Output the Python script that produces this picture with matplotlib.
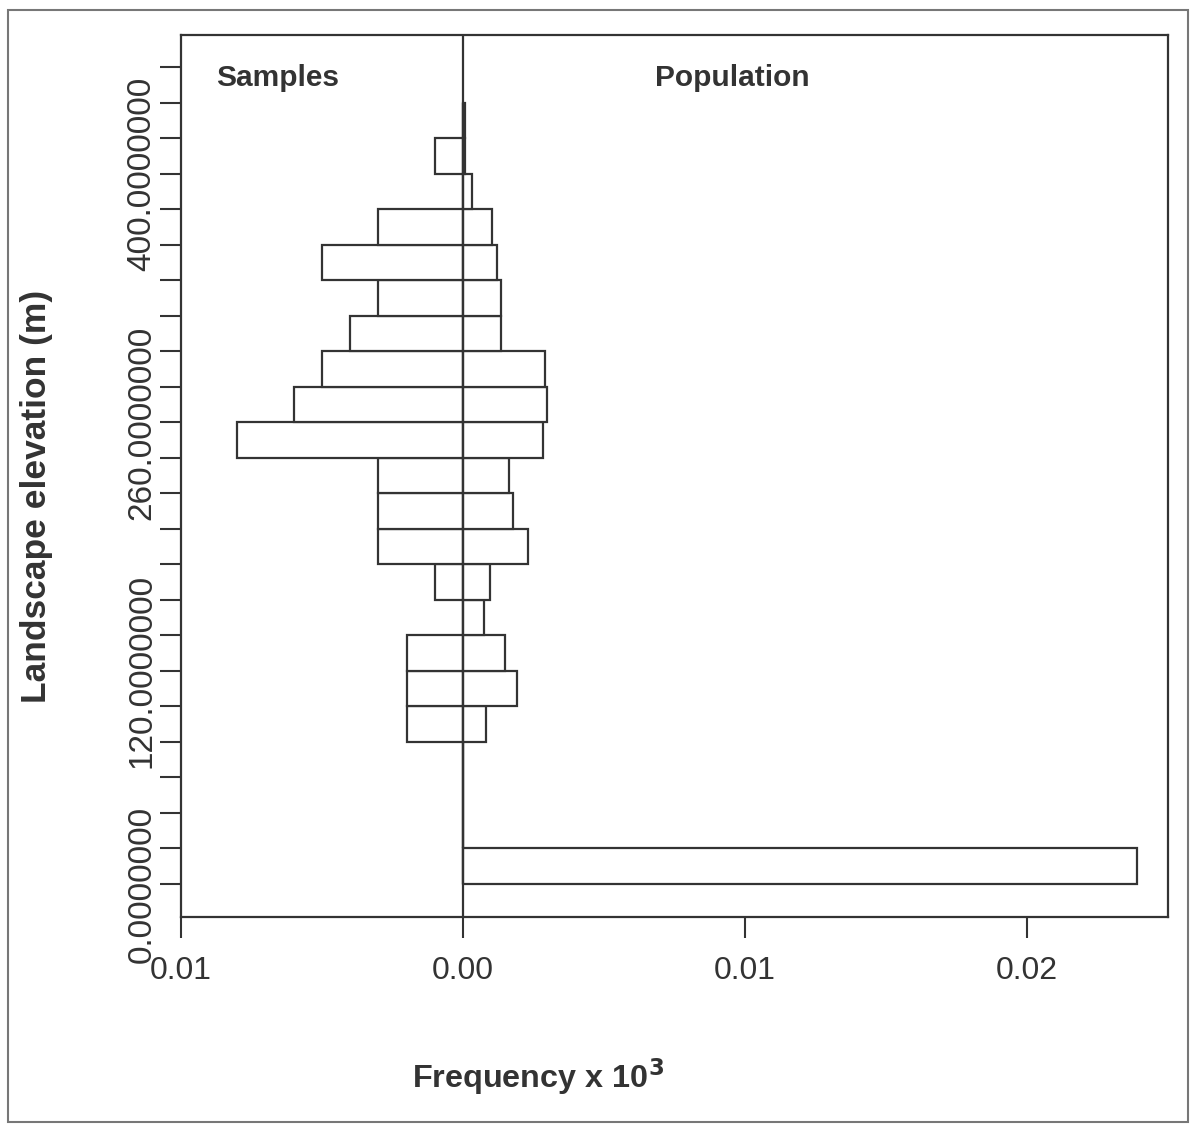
import numpy as np
import matplotlib.pyplot as plt
from matplotlib.patches import Rectangle

# elevation bins (m), lower edges, 20 m wide
bin_lo = [0, 20, 40, 60, 80, 100, 120, 140, 160, 180, 200, 220, 240, 260,
          280, 300, 320, 340, 360, 380, 400, 420]
samples = [0, 0, 0, 0, 0.002, 0.002, 0.002, 0, 0.001, 0.003, 0.003, 0.003,
           0.008, 0.006, 0.005, 0.004, 0.003, 0.005, 0.003, 0, 0.001, 0]
population = [0.0239, 0, 0, 0, 0.00083, 0.00193, 0.00149, 0.00076, 0.00097,
              0.00231, 0.00178, 0.00164, 0.00282, 0.00297, 0.00291, 0.00134,
              0.00134, 0.00119, 0.00104, 0.00031, 0.00007, 0.00007]
ytick_vals = np.arange(0, 461, 20)
ytick_labels = {0: '0.0000000', 120: '120.0000000', 260: '260.0000000', 400: '400.0000000'}
xtick_vals = [-0.01, 0.0, 0.01, 0.02]

plt.rcParams['font.family'] = ['Liberation Sans', 'DejaVu Sans']
ink = '#333333'

fig = plt.figure(figsize=(11.96, 11.28), dpi=100)
ax = fig.add_axes([181/1196, 1-917/1128, (1168-181)/1196, (917-35)/1128])

ax.barh(bin_lo, [-s for s in samples], height=20, align='edge', left=0,
        facecolor='white', edgecolor=ink, linewidth=1.6)
ax.barh(bin_lo, population, height=20, align='edge', left=0,
        facecolor='white', edgecolor=ink, linewidth=1.6)
ax.axvline(0, color=ink, linewidth=1.6)

ax.set_xlim(-0.01, 0.025)
ax.set_ylim(-18.6, 478.3)

ax.set_xticks(xtick_vals)
ax.set_xticklabels(['%.2f' % abs(v) for v in xtick_vals], fontsize=23, color=ink)
ax.set_yticks(ytick_vals)
ax.set_yticklabels([ytick_labels.get(int(v), '') for v in ytick_vals],
                   fontsize=24, color=ink, rotation=90, va='center')
ax.tick_params(axis='both', length=15, width=1.5, color=ink)
ax.tick_params(axis='x', pad=13)
ax.tick_params(axis='y', pad=2)
for s in ax.spines.values():
    s.set_color(ink)
    s.set_linewidth(1.6)

ax.text(0.098, 0.951, 'Samples', transform=ax.transAxes, fontsize=21.5,
        fontweight='bold', color=ink, ha='center', va='center')
ax.text(0.559, 0.951, 'Population', transform=ax.transAxes, fontsize=21.5,
        fontweight='bold', color=ink, ha='center', va='center')

fig.text(538/1196, 1-1077/1128, 'Frequency x 10$^\\mathbf{3}$', fontsize=23.3,
         fontweight='bold', color=ink, ha='center', va='center')
fig.text(37/1196, 1-496/1128, 'Landscape elevation (m)', fontsize=25.5,
         fontweight='bold', color=ink, ha='center', va='center', rotation=90)

# scanned page frame
fig.patches.append(Rectangle((8/1196, 6/1128), 1180/1196, 1112/1128,
                             transform=fig.transFigure, fill=False,
                             edgecolor='#777777', linewidth=1.5))

fig.savefig('out.png', dpi=100)
